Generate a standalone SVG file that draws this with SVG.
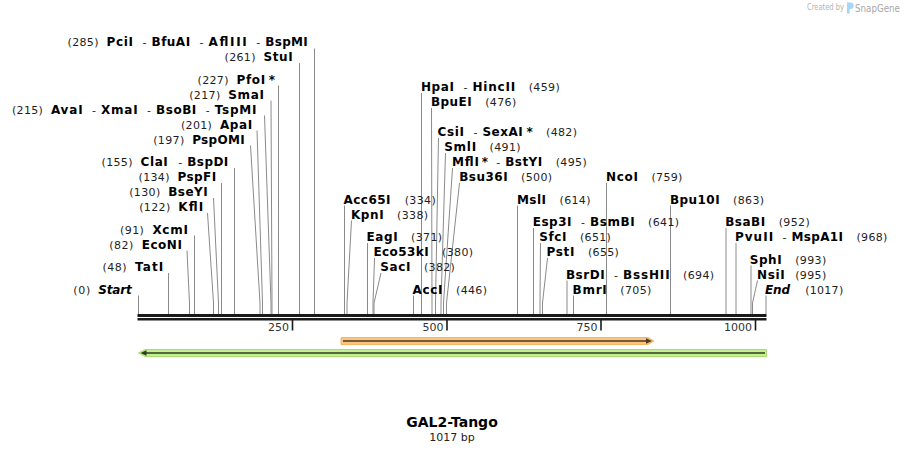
<svg xmlns="http://www.w3.org/2000/svg" width="905" height="453" viewBox="0 0 905 453">
<style>
text{font-family:"DejaVu Sans","Liberation Sans",sans-serif}
.nm{font-size:12px;font-weight:bold;fill:#000}
.nu{font-size:11px;fill:#1e1e1e}
.it{font-style:italic}
.cn{fill:none;stroke:#8a8a8a;stroke-width:1}
.tk{font-size:11px;fill:#333;text-anchor:end}
.tt{font-size:14px;font-weight:bold;fill:#000;text-anchor:middle}
.bp{font-size:11px;fill:#222;text-anchor:middle}
</style>
<rect width="905" height="453" fill="#fff"/>

<g id="logo">
<text x="807" y="10" style="font-size:8px;fill:#b4b4b4" textLength="37" lengthAdjust="spacingAndGlyphs">Created by</text>
<path d="M847,2.5 h3.5 a3.2,3.2 0 0 1 0,6.4 h-0.8 v4.6 h-2.7 z" fill="#a6d8f6"/>
<text x="855" y="11.5" style="font-size:10px;fill:#a8a8a8" textLength="45" lengthAdjust="spacingAndGlyphs">SnapGene</text>
</g>

<g id="connectors">
<path class="cn" d="M314.5,48.5V314"/>
<path class="cn" d="M299.5,63V314"/>
<path class="cn" d="M278.5,85.5V314"/>
<path class="cn" d="M271,100.5L272,303V314"/>
<path class="cn" d="M264.5,115.5L271,303V314"/>
<path class="cn" d="M257,130.5L262.5,303V314"/>
<path class="cn" d="M250.5,145.5L260,303V314"/>
<path class="cn" d="M234.5,168V314"/>
<path class="cn" d="M221.5,183V314"/>
<path class="cn" d="M213.5,198L218.5,303V314"/>
<path class="cn" d="M207.5,213L213.5,303V314"/>
<path class="cn" d="M194.5,235.5V314"/>
<path class="cn" d="M187,250.5L189.5,303V314"/>
<path class="cn" d="M168.5,273V314"/>
<path class="cn" d="M138.5,295.5V314"/>
<path class="cn" d="M421.5,93V314"/>
<path class="cn" d="M431.5,108L432,303V314"/>
<path class="cn" d="M438.5,138L435.5,303V314"/>
<path class="cn" d="M445.5,153L441,303V314"/>
<path class="cn" d="M452.5,168L443.5,303V314"/>
<path class="cn" d="M459.5,183L446.5,303V314"/>
<path class="cn" d="M606.5,183V314"/>
<path class="cn" d="M344.5,205.5V314"/>
<path class="cn" d="M517.5,205.5V314"/>
<path class="cn" d="M670.5,205.5V314"/>
<path class="cn" d="M351.5,220.5L347,303V314"/>
<path class="cn" d="M533.5,228V314"/>
<path class="cn" d="M726,228V314"/>
<path class="cn" d="M367.5,243V314"/>
<path class="cn" d="M540.5,243L540,303V314"/>
<path class="cn" d="M736,243V314"/>
<path class="cn" d="M374.5,258L373,303V314"/>
<path class="cn" d="M547.5,258L542.5,303V314"/>
<path class="cn" d="M751,265.5V314"/>
<path class="cn" d="M381,273L374,303V314"/>
<path class="cn" d="M567,280.5V314"/>
<path class="cn" d="M757.5,280.5L752.5,303V314"/>
<path class="cn" d="M413.5,295.5V314"/>
<path class="cn" d="M573.5,295.5V314"/>
<path class="cn" d="M766,295.5V314"/>
</g>

<g id="ruler">
<rect x="137.5" y="314" width="629" height="3" fill="#1a1a1a"/>
<rect x="137.5" y="318" width="629" height="2.5" fill="#1a1a1a"/>
<path d="M292.5,320V330.5M447,320V330.5M601,320V330.5M755.5,320V330.5" stroke="#1a1a1a" stroke-width="1.6"/>
<text class="tk" x="289" y="331">250</text>
<text class="tk" x="443.5" y="331">500</text>
<text class="tk" x="597.5" y="331">750</text>
<text class="tk" x="752" y="331">1000</text>
</g>

<g id="feature-orange">
<path d="M341,337.5H648L654,341L648,344.5H341Z" fill="#f9c47c" stroke="#f2a94a" stroke-width="0.8"/>
<path d="M343,341H647" stroke="#4a3a28" stroke-width="1.6"/>
<path d="M646,338.3L652,341L646,343.7Z" fill="#4a3a28"/>
</g>
<g id="feature-green">
<path d="M138.5,353L145,349.5H766.5V356.5H145Z" fill="#c3f08e" stroke="#9ad65a" stroke-width="0.8"/>
<path d="M146,353H765" stroke="#2d3d22" stroke-width="1.6"/>
<path d="M140.5,353L146.5,350.3V355.7Z" fill="#2d3d22"/>
</g>

<g id="title">
<text class="tt" x="452" y="427">GAL2-Tango</text>
<text class="bp" x="452" y="441">1017 bp</text>
</g>

<g id="n-PciI">
<text class="nu" x="67.5" y="46" textLength="31" lengthAdjust="spacing">(285)</text>
<text class="nm" x="106.5" y="46" textLength="26.5" lengthAdjust="spacing">PciI</text>
<text class="nu" x="142.5" y="46">-</text>
<text class="nm" x="151.5" y="46" textLength="38.6" lengthAdjust="spacing">BfuAI</text>
<text class="nu" x="199.6" y="46">-</text>
<text class="nm" x="208.6" y="46" textLength="38.1" lengthAdjust="spacing">AflIII</text>
<text class="nu" x="256.2" y="46">-</text>
<text class="nm" x="265.2" y="46" textLength="42.6" lengthAdjust="spacing">BspMI</text>
</g>
<g id="n-StuI">
<text class="nu" x="224.5" y="61" textLength="31" lengthAdjust="spacing">(261)</text>
<text class="nm" x="263.5" y="61" textLength="29.1" lengthAdjust="spacing">StuI</text>
</g>
<g id="n-PfoI">
<text class="nu" x="197.5" y="83.5" textLength="31" lengthAdjust="spacing">(227)</text>
<text class="nm" x="236.5" y="83.5" textLength="28.6" lengthAdjust="spacing">PfoI</text>
<text class="nm" x="268.8" y="83.5">*</text>
</g>
<g id="n-SmaI">
<text class="nu" x="189.2" y="98.5" textLength="31" lengthAdjust="spacing">(217)</text>
<text class="nm" x="228.2" y="98.5" textLength="35.8" lengthAdjust="spacing">SmaI</text>
</g>
<g id="n-AvaI">
<text class="nu" x="11.9" y="113.5" textLength="31" lengthAdjust="spacing">(215)</text>
<text class="nm" x="50.9" y="113.5" textLength="31.7" lengthAdjust="spacing">AvaI</text>
<text class="nu" x="92.1" y="113.5">-</text>
<text class="nm" x="101.1" y="113.5" textLength="36.5" lengthAdjust="spacing">XmaI</text>
<text class="nu" x="147.1" y="113.5">-</text>
<text class="nm" x="156.1" y="113.5" textLength="40.2" lengthAdjust="spacing">BsoBI</text>
<text class="nu" x="205.8" y="113.5">-</text>
<text class="nm" x="214.8" y="113.5" textLength="41.6" lengthAdjust="spacing">TspMI</text>
</g>
<g id="n-ApaI">
<text class="nu" x="180.9" y="128.5" textLength="31" lengthAdjust="spacing">(201)</text>
<text class="nm" x="219.9" y="128.5" textLength="32.3" lengthAdjust="spacing">ApaI</text>
</g>
<g id="n-PspOMI">
<text class="nu" x="153.2" y="143.5" textLength="31" lengthAdjust="spacing">(197)</text>
<text class="nm" x="192.2" y="143.5" textLength="52.4" lengthAdjust="spacing">PspOMI</text>
</g>
<g id="n-ClaI">
<text class="nu" x="101.5" y="166" textLength="31" lengthAdjust="spacing">(155)</text>
<text class="nm" x="140.5" y="166" textLength="27.3" lengthAdjust="spacing">ClaI</text>
<text class="nu" x="178.2" y="166">-</text>
<text class="nm" x="187.2" y="166" textLength="41.1" lengthAdjust="spacing">BspDI</text>
</g>
<g id="n-PspFI">
<text class="nu" x="138.5" y="181" textLength="31" lengthAdjust="spacing">(134)</text>
<text class="nm" x="177.5" y="181" textLength="38.6" lengthAdjust="spacing">PspFI</text>
</g>
<g id="n-BseYI">
<text class="nu" x="129.2" y="196" textLength="31" lengthAdjust="spacing">(130)</text>
<text class="nm" x="168.2" y="196" textLength="39.5" lengthAdjust="spacing">BseYI</text>
</g>
<g id="n-KflI">
<text class="nu" x="139.2" y="211" textLength="31" lengthAdjust="spacing">(122)</text>
<text class="nm" x="178.2" y="211" textLength="25" lengthAdjust="spacing">KflI</text>
</g>
<g id="n-XcmI">
<text class="nu" x="119.9" y="233.5" textLength="24" lengthAdjust="spacing">(91)</text>
<text class="nm" x="152.4" y="233.5" textLength="35.5" lengthAdjust="spacing">XcmI</text>
</g>
<g id="n-EcoNI">
<text class="nu" x="109.2" y="248.5" textLength="24" lengthAdjust="spacing">(82)</text>
<text class="nm" x="141.7" y="248.5" textLength="40.2" lengthAdjust="spacing">EcoNI</text>
</g>
<g id="n-TatI">
<text class="nu" x="102.5" y="271" textLength="24" lengthAdjust="spacing">(48)</text>
<text class="nm" x="135" y="271" textLength="28.2" lengthAdjust="spacing">TatI</text>
</g>
<g id="n-Start">
<text class="nu" x="73.2" y="293.5" textLength="17" lengthAdjust="spacing">(0)</text>
<text class="nm it" x="98.2" y="293.5" textLength="33.5" lengthAdjust="spacing">Start</text>
</g>

<g id="n-HpaI">
<text class="nm" x="420.9" y="91" textLength="33" lengthAdjust="spacing">HpaI</text>
<text class="nu" x="463.4" y="91">-</text>
<text class="nm" x="472.4" y="91" textLength="42.8" lengthAdjust="spacing">HincII</text>
<text class="nu" x="528.7" y="91" textLength="31" lengthAdjust="spacing">(459)</text>
</g>
<g id="n-BpuEI">
<text class="nm" x="430.9" y="106" textLength="40.8" lengthAdjust="spacing">BpuEI</text>
<text class="nu" x="485.2" y="106" textLength="31" lengthAdjust="spacing">(476)</text>
</g>
<g id="n-CsiI">
<text class="nm" x="437.5" y="136" textLength="26.4" lengthAdjust="spacing">CsiI</text>
<text class="nu" x="473.4" y="136">-</text>
<text class="nm" x="482.4" y="136" textLength="40.4" lengthAdjust="spacing">SexAI</text>
<text class="nm" x="526.5" y="136">*</text>
<text class="nu" x="546" y="136" textLength="31" lengthAdjust="spacing">(482)</text>
</g>
<g id="n-SmlI">
<text class="nm" x="444.2" y="151" textLength="31.9" lengthAdjust="spacing">SmlI</text>
<text class="nu" x="489.6" y="151" textLength="31" lengthAdjust="spacing">(491)</text>
</g>
<g id="n-MflI">
<text class="nm" x="451.9" y="166" textLength="27" lengthAdjust="spacing">MflI</text>
<text class="nm" x="481.7" y="166">*</text>
<text class="nu" x="496.2" y="166">-</text>
<text class="nm" x="505.2" y="166" textLength="37" lengthAdjust="spacing">BstYI</text>
<text class="nu" x="555.7" y="166" textLength="31" lengthAdjust="spacing">(495)</text>
</g>
<g id="n-Bsu36I">
<text class="nm" x="459.2" y="181" textLength="48.4" lengthAdjust="spacing">Bsu36I</text>
<text class="nu" x="521.1" y="181" textLength="31" lengthAdjust="spacing">(500)</text>
</g>
<g id="n-NcoI">
<text class="nm" x="605.9" y="181" textLength="32" lengthAdjust="spacing">NcoI</text>
<text class="nu" x="651.4" y="181" textLength="31" lengthAdjust="spacing">(759)</text>
</g>
<g id="n-Acc65I">
<text class="nm" x="343.5" y="203.5" textLength="47" lengthAdjust="spacing">Acc65I</text>
<text class="nu" x="404.7" y="203.5" textLength="31" lengthAdjust="spacing">(334)</text>
</g>
<g id="n-MslI">
<text class="nm" x="516.9" y="203.5" textLength="29.1" lengthAdjust="spacing">MslI</text>
<text class="nu" x="559.5" y="203.5" textLength="31" lengthAdjust="spacing">(614)</text>
</g>
<g id="n-Bpu10I">
<text class="nm" x="669.9" y="203.5" textLength="49.7" lengthAdjust="spacing">Bpu10I</text>
<text class="nu" x="733.1" y="203.5" textLength="31" lengthAdjust="spacing">(863)</text>
</g>
<g id="n-KpnI">
<text class="nm" x="350.9" y="218.5" textLength="32.7" lengthAdjust="spacing">KpnI</text>
<text class="nu" x="397.1" y="218.5" textLength="31" lengthAdjust="spacing">(338)</text>
</g>
<g id="n-Esp3I">
<text class="nm" x="532.7" y="226" textLength="38.8" lengthAdjust="spacing">Esp3I</text>
<text class="nu" x="581" y="226">-</text>
<text class="nm" x="590" y="226" textLength="44.6" lengthAdjust="spacing">BsmBI</text>
<text class="nu" x="648.1" y="226" textLength="31" lengthAdjust="spacing">(641)</text>
</g>
<g id="n-BsaBI">
<text class="nm" x="725.2" y="226" textLength="40" lengthAdjust="spacing">BsaBI</text>
<text class="nu" x="778.7" y="226" textLength="31" lengthAdjust="spacing">(952)</text>
</g>
<g id="n-EagI">
<text class="nm" x="366.5" y="241" textLength="31.1" lengthAdjust="spacing">EagI</text>
<text class="nu" x="411.1" y="241" textLength="31" lengthAdjust="spacing">(371)</text>
</g>
<g id="n-SfcI">
<text class="nm" x="539.2" y="241" textLength="27.2" lengthAdjust="spacing">SfcI</text>
<text class="nu" x="579.9" y="241" textLength="31" lengthAdjust="spacing">(651)</text>
</g>
<g id="n-PvuII">
<text class="nm" x="734.9" y="241" textLength="38.2" lengthAdjust="spacing">PvuII</text>
<text class="nu" x="782.6" y="241">-</text>
<text class="nm" x="791.6" y="241" textLength="51.3" lengthAdjust="spacing">MspA1I</text>
<text class="nu" x="856.4" y="241" textLength="31" lengthAdjust="spacing">(968)</text>
</g>
<g id="n-Eco53kI">
<text class="nm" x="373.5" y="256" textLength="55.1" lengthAdjust="spacing">Eco53kI</text>
<text class="nu" x="442.1" y="256" textLength="31" lengthAdjust="spacing">(380)</text>
</g>
<g id="n-PstI">
<text class="nm" x="546.5" y="256" textLength="27.9" lengthAdjust="spacing">PstI</text>
<text class="nu" x="587.9" y="256" textLength="31" lengthAdjust="spacing">(655)</text>
</g>
<g id="n-SphI">
<text class="nm" x="749.7" y="263.5" textLength="32" lengthAdjust="spacing">SphI</text>
<text class="nu" x="795.2" y="263.5" textLength="31" lengthAdjust="spacing">(993)</text>
</g>
<g id="n-SacI">
<text class="nm" x="380.2" y="271" textLength="30.2" lengthAdjust="spacing">SacI</text>
<text class="nu" x="423.9" y="271" textLength="31" lengthAdjust="spacing">(382)</text>
</g>
<g id="n-BsrDI">
<text class="nm" x="565.9" y="278.5" textLength="38.7" lengthAdjust="spacing">BsrDI</text>
<text class="nu" x="614.1" y="278.5">-</text>
<text class="nm" x="623.1" y="278.5" textLength="46.5" lengthAdjust="spacing">BssHII</text>
<text class="nu" x="683.1" y="278.5" textLength="31" lengthAdjust="spacing">(694)</text>
</g>
<g id="n-NsiI">
<text class="nm" x="756.9" y="278.5" textLength="27.9" lengthAdjust="spacing">NsiI</text>
<text class="nu" x="795.2" y="278.5" textLength="31" lengthAdjust="spacing">(995)</text>
</g>
<g id="n-AccI">
<text class="nm" x="412.5" y="293.5" textLength="30" lengthAdjust="spacing">AccI</text>
<text class="nu" x="456" y="293.5" textLength="31" lengthAdjust="spacing">(446)</text>
</g>
<g id="n-BmrI">
<text class="nm" x="572.5" y="293.5" textLength="34.3" lengthAdjust="spacing">BmrI</text>
<text class="nu" x="620.3" y="293.5" textLength="31" lengthAdjust="spacing">(705)</text>
</g>
<g id="n-End">
<text class="nm it" x="764.9" y="293.5" textLength="25.1" lengthAdjust="spacing">End</text>
<text class="nu" x="805.2" y="293.5" textLength="38" lengthAdjust="spacing">(1017)</text>
</g>
</svg>
